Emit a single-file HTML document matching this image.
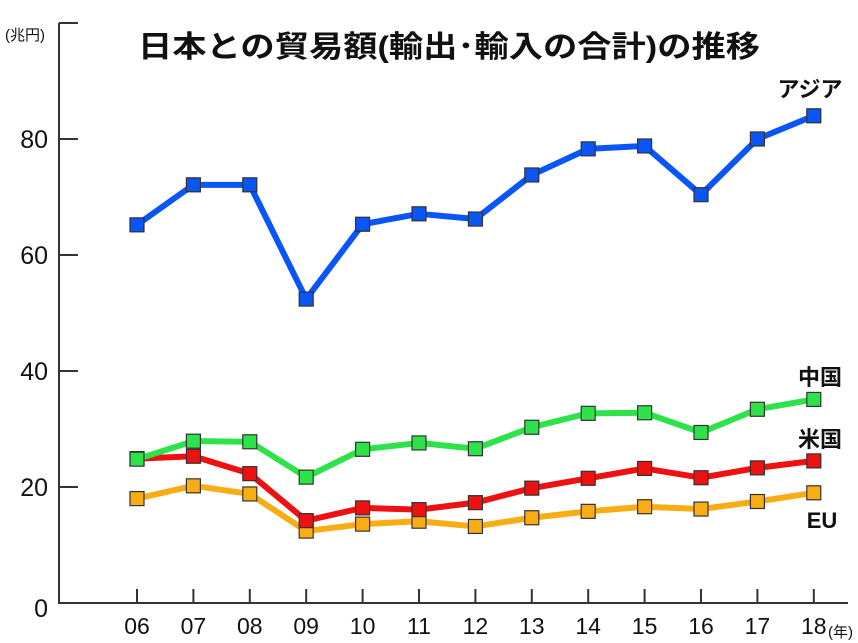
<!DOCTYPE html>
<html><head><meta charset="utf-8"><style>
html,body{margin:0;padding:0;background:#fff;}
svg{display:block;font-family:"Liberation Sans","Noto Sans CJK JP",sans-serif;}
</style></head><body>
<svg id="chart" width="858" height="643" viewBox="0 0 858 643">
<text x="138" y="57" font-size="30" font-weight="bold" fill="#111" textLength="622" lengthAdjust="spacingAndGlyphs">日本との貿易額(輸出･輸入の合計)の推移</text>
<text x="5" y="40" font-size="15" fill="#111">(兆円)</text>
<text x="828" y="637" font-size="15" fill="#111">(年)</text>
<g id="axes"></g>
<g id="series"></g>
</svg>
<script>
const years = ["06","07","08","09","10","11","12","13","14","15","16","17","18"];
const asia  = [65.2,72.1,72.1,52.4,65.3,67.1,66.2,73.8,78.3,78.8,70.4,80.0,84.0];
const china = [24.8,27.9,27.8,21.7,26.5,27.6,26.6,30.3,32.7,32.8,29.4,33.4,35.1];
const usa   = [24.9,25.3,22.3,14.2,16.4,16.1,17.3,19.8,21.5,23.2,21.6,23.3,24.5];
const eu    = [18.0,20.2,18.8,12.4,13.6,14.1,13.2,14.7,15.8,16.6,16.2,17.5,19.0];
const yTicks = [0,20,40,60,80,100];
const yLabels = ["0","20","40","60","80",""];

const NS="http://www.w3.org/2000/svg";
const x0=137, xStep=56.4;
function xs(i){return x0+i*xStep;}
function ys(v){return 603-v*5.8;}
function mk(tag,attrs,parent){const e=document.createElementNS(NS,tag);for(const k in attrs)e.setAttribute(k,attrs[k]);parent.appendChild(e);return e;}

const axes=document.getElementById('axes');
let a=mk('line',{x1:59,y1:ys(100),x2:59,y2:603,stroke:'#333','stroke-width':2},axes);


a=mk('line',{x1:58,y1:603,x2:848,y2:603,stroke:'#333','stroke-width':2},axes);


yTicks.forEach((v,i)=>{
  const t=mk('line',{x1:59,y1:ys(v),x2:78,y2:ys(v),stroke:'#333','stroke-width':2},axes);
  
  
  if(yLabels[i]){
    const l=mk('text',{x:48,y:ys(v)+(v===0?14:9),'text-anchor':'end','font-size':25,fill:'#111'},axes);
    l.textContent=yLabels[i];
    
    
  }
});
years.forEach((y,i)=>{
  const t=mk('line',{x1:xs(i),y1:589,x2:xs(i),y2:603,stroke:'#333','stroke-width':2},axes);
  
  
  const l=mk('text',{x:xs(i),y:634,'text-anchor':'middle','font-size':23,fill:'#111'},axes);
  l.textContent=y;
  
  
});

const ser=document.getElementById('series');
function draw(vals,color,name,label,lx,ly){
  const g=mk('g',{},ser);
  
  
  const p=mk('polyline',{points:vals.map((v,i)=>xs(i)+','+ys(v)).join(' '),fill:'none',stroke:color,'stroke-width':6,'stroke-linejoin':'round'},g);
  
  
  vals.forEach((v,i)=>{
    const r=mk('rect',{x:xs(i)-7,y:ys(v)-7,width:14,height:14,fill:color,stroke:'#333','stroke-width':1.2},g);
    
    
  });
  const t=mk('text',{x:lx,y:ly,'text-anchor':'middle','font-size':22,'font-weight':'bold',fill:'#111'},g);
  t.textContent=label;
  
  
}
draw(eu,'#f9ad14','eu','EU',822,528);
draw(usa,'#ee1111','usa','米国',820,447);
draw(china,'#2ee24a','china','中国',820,385);
draw(asia,'#0a55f5','asia','アジア',810,97);
</script>
</body></html>
